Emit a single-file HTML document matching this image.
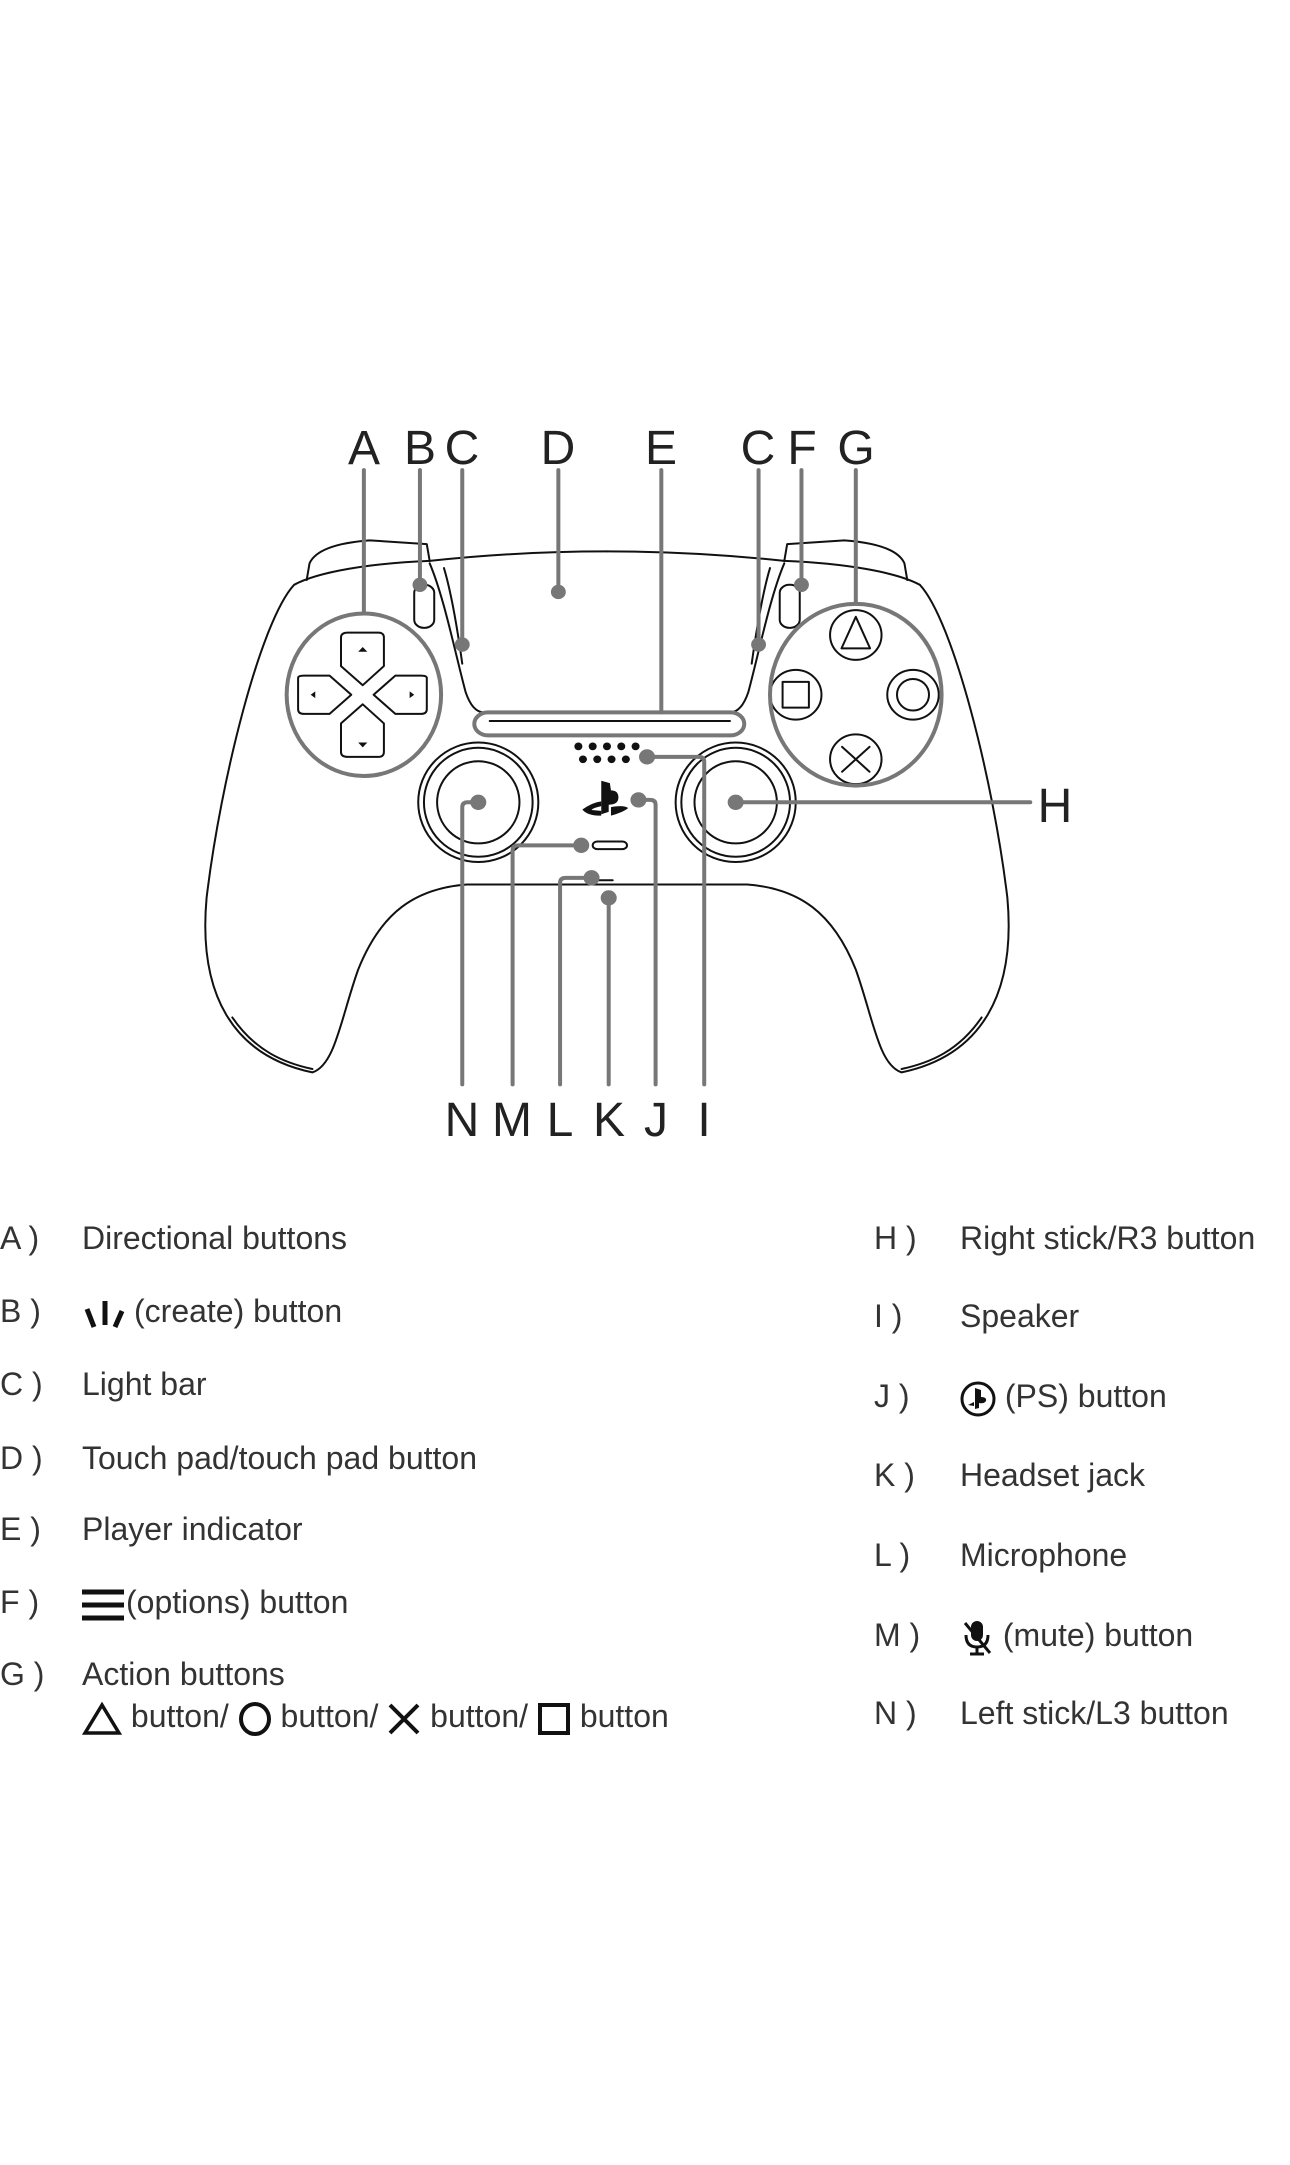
<!DOCTYPE html>
<html><head><meta charset="utf-8"><style>
html,body{margin:0;padding:0;background:#fff;width:1290px;height:2165px;overflow:hidden;position:relative}
.t{position:absolute;font-family:"Liberation Sans Narrow","Liberation Sans",sans-serif;font-size:32px;color:#333;height:40px;line-height:40px;white-space:nowrap}
svg.i{vertical-align:middle}
</style></head><body>
<svg width="1290" height="1300" style="position:absolute;left:0;top:0">
<g transform="translate(198,396) scale(0.572,0.478)">
<g fill="none" stroke="#111" stroke-width="2" vector-effect="non-scaling-stroke" stroke-linecap="round" stroke-linejoin="round">
 <g id="half">
  <path vector-effect="non-scaling-stroke" d="M190,385 L195,350 Q210,310 300,302 L400,310 L405,345"/>
  <path vector-effect="non-scaling-stroke" d="M405,345 C300,350 210,368 168,395 C110,470 40,800 15,1050 C0,1250 60,1380 200,1415 C240,1400 250,1300 280,1200 C320,1080 380,1030 470,1022 L715,1022"/>
  <path vector-effect="non-scaling-stroke" d="M60,1300 C100,1370 150,1395 200,1408"/>
  <path vector-effect="non-scaling-stroke" d="M405,350 C430,420 450,540 468,620 C478,655 490,662 500,662"/>
  <path vector-effect="non-scaling-stroke" d="M430,360 C445,420 455,500 462,560"/>
  <path vector-effect="non-scaling-stroke" d="M405,345 Q560,325 715,325"/>
  <rect vector-effect="non-scaling-stroke" x="378" y="395" width="35" height="90" rx="17"/>
  <ellipse vector-effect="non-scaling-stroke" cx="490" cy="850" rx="105" ry="125"/>
  <ellipse vector-effect="non-scaling-stroke" cx="490" cy="850" rx="95" ry="114"/>
  <ellipse vector-effect="non-scaling-stroke" cx="490" cy="850" rx="72" ry="86"/>
 </g>
 <use href="#half" transform="translate(1430,0) scale(-1,1)"/>
 <rect vector-effect="non-scaling-stroke" x="483" y="662" width="472" height="48" rx="24"/>
 <path vector-effect="non-scaling-stroke" d="M510,680 L930,680"/>
 <path vector-effect="non-scaling-stroke" d="M250,505 Q250,495 262,495 L315,495 Q325,495 325,505 L325,565 L288,605 L250,565 Z"/>
 <path vector-effect="non-scaling-stroke" d="M250,745 Q250,755 262,755 L315,755 Q325,755 325,745 L325,685 L288,645 L250,685 Z"/>
 <path vector-effect="non-scaling-stroke" d="M175,590 Q175,585 185,585 L230,585 L268,625 L230,665 L185,665 Q175,665 175,655 Z"/>
 <path vector-effect="non-scaling-stroke" d="M400,590 Q400,585 390,585 L345,585 L307,625 L345,665 L390,665 Q400,665 400,655 Z"/>
 <ellipse vector-effect="non-scaling-stroke" cx="1150" cy="500" rx="45" ry="52"/><ellipse vector-effect="non-scaling-stroke" cx="1045" cy="625" rx="45" ry="52"/><ellipse vector-effect="non-scaling-stroke" cx="1250" cy="625" rx="45" ry="52"/><ellipse vector-effect="non-scaling-stroke" cx="1150" cy="760" rx="45" ry="52"/>
 <path vector-effect="non-scaling-stroke" d="M1150,462 L1125,528 L1175,528 Z"/>
 <rect vector-effect="non-scaling-stroke" x="1022" y="598" width="46" height="54"/>
 <ellipse vector-effect="non-scaling-stroke" cx="1250" cy="625" rx="28" ry="33"/>
 <path vector-effect="non-scaling-stroke" d="M1126,734 L1174,786 M1174,734 L1126,786"/>
 <rect vector-effect="non-scaling-stroke" x="690" y="932" width="60" height="16" rx="8"/>
 <path vector-effect="non-scaling-stroke" d="M697,1013 L725,1013"/>
</g>
<g fill="#111">
 <path d="M280,535 L296,535 L288,525Z M280,725 L296,725 L288,735Z M205,618 L205,632 L197,625Z M370,618 L370,632 L378,625Z"/>
 <ellipse cx="665" cy="733" rx="7" ry="8"/><ellipse cx="690" cy="733" rx="7" ry="8"/><ellipse cx="715" cy="733" rx="7" ry="8"/><ellipse cx="740" cy="733" rx="7" ry="8"/><ellipse cx="765" cy="733" rx="7" ry="8"/>
 <ellipse cx="673" cy="760" rx="7" ry="8"/><ellipse cx="698" cy="760" rx="7" ry="8"/><ellipse cx="723" cy="760" rx="7" ry="8"/><ellipse cx="748" cy="760" rx="7" ry="8"/>
 <path d="M705,805 L720,810 L722,825 Q735,825 735,840 Q735,855 718,855 L718,870 L705,875 Z"/>
 <path d="M672,865 Q690,850 705,848 L705,858 Q690,862 688,866 L705,868 L705,878 Q680,878 672,865Z"/>
 <path d="M722,860 Q745,855 752,862 Q745,870 722,878Z"/>
</g>
<g stroke="#777" stroke-width="4" fill="none" stroke-linecap="round">
 <path vector-effect="non-scaling-stroke" d="M290,155 L290,455"/>
 <ellipse vector-effect="non-scaling-stroke" cx="290" cy="625" rx="135" ry="170"/>
 <path vector-effect="non-scaling-stroke" d="M388,155 L388,395"/>
 <path vector-effect="non-scaling-stroke" d="M462,155 L462,520"/>
 <path vector-effect="non-scaling-stroke" d="M630,155 L630,410"/>
 <path vector-effect="non-scaling-stroke" d="M810,155 L810,662"/>
 <rect vector-effect="non-scaling-stroke" x="483" y="662" width="472" height="48" rx="24"/>
 <path vector-effect="non-scaling-stroke" d="M980,155 L980,520"/>
 <path vector-effect="non-scaling-stroke" d="M1055,155 L1055,395"/>
 <path vector-effect="non-scaling-stroke" d="M1150,155 L1150,435"/>
 <ellipse vector-effect="non-scaling-stroke" cx="1150" cy="625" rx="150" ry="190"/>
 <path vector-effect="non-scaling-stroke" d="M940,850 L1455,850"/>
 <path vector-effect="non-scaling-stroke" d="M785,755 L875,755 Q885,755 885,765 L885,1440"/>
 <path vector-effect="non-scaling-stroke" d="M770,845 L790,845 Q800,845 800,855 L800,1440"/>
 <path vector-effect="non-scaling-stroke" d="M670,940 L560,940 Q550,940 550,950 L550,1440"/>
 <path vector-effect="non-scaling-stroke" d="M688,1008 L643,1008 Q633,1008 633,1018 L633,1440"/>
 <path vector-effect="non-scaling-stroke" d="M718,1050 L718,1440"/>
 <path vector-effect="non-scaling-stroke" d="M490,850 L472,850 Q462,850 462,860 L462,1440"/>
</g>
<g fill="#777">
 <ellipse cx="388" cy="395" rx="13" ry="15"/><ellipse cx="462" cy="520" rx="13" ry="15"/><ellipse cx="630" cy="410" rx="13" ry="15"/><ellipse cx="980" cy="520" rx="13" ry="15"/><ellipse cx="1055" cy="395" rx="13" ry="15"/>
 <ellipse cx="940" cy="850" rx="14" ry="16"/><ellipse cx="490" cy="850" rx="14" ry="16"/><ellipse cx="785" cy="755" rx="14" ry="16"/><ellipse cx="770" cy="845" rx="14" ry="16"/><ellipse cx="670" cy="940" rx="14" ry="16"/><ellipse cx="688" cy="1008" rx="14" ry="16"/><ellipse cx="718" cy="1050" rx="14" ry="16"/>
</g>
</g>
<g font-family="Liberation Sans Narrow, Liberation Sans, sans-serif" font-size="48" fill="#222" text-anchor="middle">
 <text x="364" y="464">A</text><text x="420" y="464">B</text><text x="462" y="464">C</text><text x="558" y="464">D</text><text x="661" y="464">E</text><text x="758" y="464">C</text><text x="802" y="464">F</text><text x="856" y="464">G</text>
 <text x="1055" y="822">H</text>
 <text x="462" y="1136">N</text><text x="512" y="1136">M</text><text x="560" y="1136">L</text><text x="609" y="1136">K</text><text x="656" y="1136">J</text><text x="704" y="1136">I</text>
</g>
</svg>

<div class="t" style="left:0;top:1218px">A )</div><div class="t" style="left:82px;top:1218px">Directional buttons</div>
<div class="t" style="left:0;top:1291px">B )</div><div class="t" style="left:82px;top:1291px"><svg class="i" width="52" height="34"><path d="M5,12 L12,30 M23,4 L23,28 M40,14 L33,30" stroke="#111" stroke-width="5"/></svg>(create) button</div>
<div class="t" style="left:0;top:1364px">C )</div><div class="t" style="left:82px;top:1364px">Light bar</div>
<div class="t" style="left:0;top:1438px">D )</div><div class="t" style="left:82px;top:1438px">Touch pad/touch pad button</div>
<div class="t" style="left:0;top:1509px">E )</div><div class="t" style="left:82px;top:1509px">Player indicator</div>
<div class="t" style="left:0;top:1582px">F )</div><div class="t" style="left:82px;top:1582px"><svg class="i" width="44" height="34"><path d="M0,4 L42,4 M0,17 L42,17 M0,30 L42,30" stroke="#111" stroke-width="5"/></svg>(options) button</div>
<div class="t" style="left:0;top:1654px">G )</div><div class="t" style="left:82px;top:1654px">Action buttons</div>
<div class="t" style="left:82px;top:1696px"><svg class="i" width="40" height="34"><path d="M20,3 L3,31 L37,31 Z" fill="none" stroke="#111" stroke-width="3.5"/></svg> button/ <svg class="i" width="34" height="34"><ellipse cx="17" cy="17" rx="14" ry="15" fill="none" stroke="#111" stroke-width="4"/></svg> button/ <svg class="i" width="34" height="34"><path d="M3,3 L31,31 M31,3 L3,31" stroke="#111" stroke-width="4"/></svg> button/ <svg class="i" width="34" height="34"><rect x="3" y="3" width="28" height="28" fill="none" stroke="#111" stroke-width="4"/></svg> button</div>

<div class="t" style="left:874px;top:1218px">H )</div><div class="t" style="left:960px;top:1218px">Right stick/R3 button</div>
<div class="t" style="left:874px;top:1296px">I )</div><div class="t" style="left:960px;top:1296px">Speaker</div>
<div class="t" style="left:874px;top:1376px">J )</div><div class="t" style="left:960px;top:1376px"><svg class="i" width="36" height="36"><circle cx="18" cy="18" r="16" fill="none" stroke="#111" stroke-width="3"/><path d="M15,7 L21,9 L21,16 Q27,16 26,20 Q24,23 19,22 L19,27 L15,28Z M8,24 L14,21 L14,25Z" fill="#111"/></svg> (PS) button</div>
<div class="t" style="left:874px;top:1455px">K )</div><div class="t" style="left:960px;top:1455px">Headset jack</div>
<div class="t" style="left:874px;top:1535px">L )</div><div class="t" style="left:960px;top:1535px">Microphone</div>
<div class="t" style="left:874px;top:1615px">M )</div><div class="t" style="left:960px;top:1615px"><svg class="i" width="34" height="38"><rect x="11" y="2" width="12" height="20" rx="6" fill="#111"/><path d="M6,16 Q6,28 17,28 Q28,28 28,16 M17,28 L17,35 M10,35 L24,35 M5,4 L30,34" fill="none" stroke="#111" stroke-width="3"/></svg> (mute) button</div>
<div class="t" style="left:874px;top:1693px">N )</div><div class="t" style="left:960px;top:1693px">Left stick/L3 button</div>
</body></html>
